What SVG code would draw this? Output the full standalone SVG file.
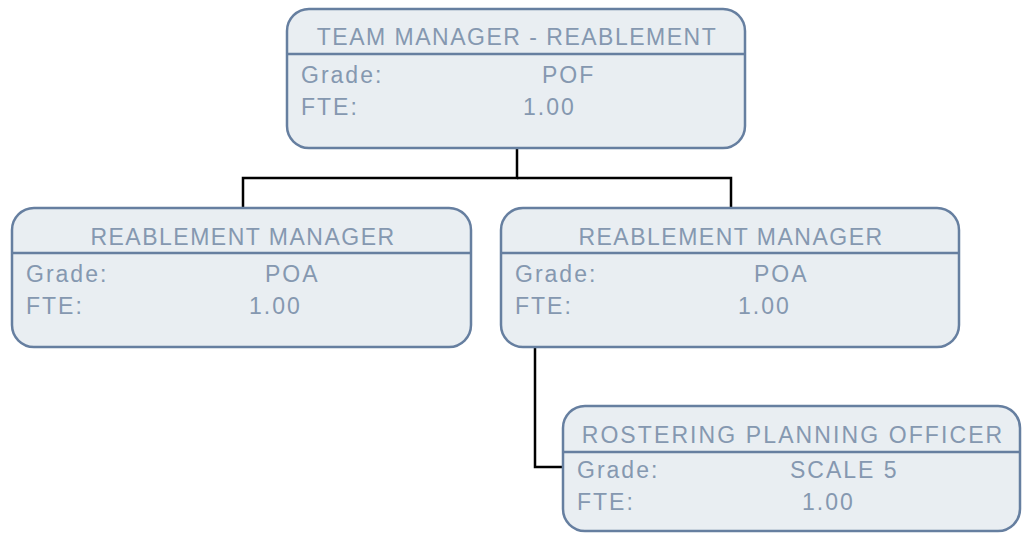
<svg xmlns="http://www.w3.org/2000/svg" width="1024" height="534" viewBox="0 0 1024 534">
<style>
.box{fill:#e9eef2;stroke:#667fa0;stroke-width:2.5}
.div{stroke:#667fa0;stroke-width:2.5}
.t{font-family:"Liberation Sans",Arial,sans-serif;font-size:23px;fill:#8598b0;letter-spacing:2px}
.c{text-anchor:middle;letter-spacing:1.5px}
.conn{fill:none;stroke:#000;stroke-width:2.5}
</style>
<rect width="1024" height="534" fill="#fff"/>
<g id="connectors">
<polyline class="conn" points="517,148 517,178 243,178 243,208"/>
<polyline class="conn" points="517,178 731,178 731,208"/>
<polyline class="conn" points="535,347 535,467 563,467"/>
</g>
<g id="team-manager">
<rect class="box" x="287" y="9" width="458" height="139" rx="22"/>
<line class="div" x1="287" y1="54" x2="745" y2="54"/>
<text class="t c" x="517" y="45">TEAM MANAGER - REABLEMENT</text>
<text class="t" x="301" y="83">Grade:</text>
<text class="t" x="542" y="83">POF</text>
<text class="t" x="301" y="115">FTE:</text>
<text class="t" x="523" y="115">1.00</text>
</g>
<g id="reablement-manager-1">
<rect class="box" x="12" y="208" width="459" height="139" rx="22"/>
<line class="div" x1="12" y1="253" x2="471" y2="253"/>
<text class="t c" x="243" y="245">REABLEMENT MANAGER</text>
<text class="t" x="26" y="282">Grade:</text>
<text class="t" x="265" y="282">POA</text>
<text class="t" x="26" y="314">FTE:</text>
<text class="t" x="249" y="314">1.00</text>
</g>
<g id="reablement-manager-2">
<rect class="box" x="501" y="208" width="458" height="139" rx="22"/>
<line class="div" x1="501" y1="253" x2="959" y2="253"/>
<text class="t c" x="731" y="245">REABLEMENT MANAGER</text>
<text class="t" x="515" y="282">Grade:</text>
<text class="t" x="754" y="282">POA</text>
<text class="t" x="515" y="314">FTE:</text>
<text class="t" x="738" y="314">1.00</text>
</g>
<g id="rostering-planning-officer">
<rect class="box" x="563" y="406" width="457" height="125" rx="22"/>
<line class="div" x1="563" y1="452" x2="1020" y2="452"/>
<text class="t c" x="793" y="443" style="letter-spacing:2.1px">ROSTERING PLANNING OFFICER</text>
<text class="t" x="577" y="478">Grade:</text>
<text class="t" x="790" y="478">SCALE 5</text>
<text class="t" x="577" y="510">FTE:</text>
<text class="t" x="802" y="510">1.00</text>
</g>
</svg>
